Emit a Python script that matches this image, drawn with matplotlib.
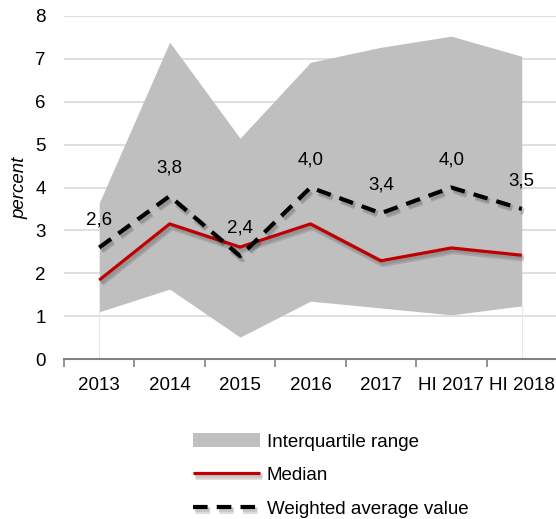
import numpy as np
import matplotlib
matplotlib.use("Agg")
import matplotlib.pyplot as plt
import matplotlib.patheffects as pe

plt.rcParams['font.family'] = ['Liberation Sans', 'DejaVu Sans']

periods = ["2013", "2014", "2015", "2016", "2017", "HI 2017", "HI 2018"]
q_low = [1.10, 1.63, 0.51, 1.35, 1.19, 1.03, 1.24]
q_high = [3.64, 7.39, 5.15, 6.92, 7.27, 7.53, 7.06]
median = [1.84, 3.15, 2.61, 3.15, 2.29, 2.59, 2.42]
weighted = [2.6, 3.8, 2.4, 4.0, 3.4, 4.0, 3.5]

x = np.arange(len(periods))
shadow = [pe.SimpleLineShadow(offset=(1.5, -2), alpha=0.13, shadow_color='k', linewidth=5),
          pe.SimpleLineShadow(offset=(1.5, -2), alpha=0.1, shadow_color='k'),
          pe.Normal()]

fig = plt.figure(figsize=(5.56, 5.19), dpi=100)
ax = fig.add_axes([64 / 556, 1 - 359 / 519, (557 - 64) / 556, (359 - 16) / 519])

ax.fill_between(x, q_low, q_high, color='#bfbfbf', linewidth=0, label="Interquartile range", zorder=2)
ax.plot(x, median, color='#c00000', linewidth=2.3, label="Median", zorder=3,
        path_effects=shadow, solid_capstyle='butt')
ax.plot(x, weighted, color='black', linewidth=3, dashes=(3.5, 2.2), label="Weighted average value",
        zorder=4, path_effects=shadow, dash_capstyle='butt')

# thin drop lines at the ends of the band
for i in (0, len(x) - 1):
    ax.plot([x[i], x[i]], [0, q_low[i]], color='#e6e6e6', linewidth=0.8, zorder=1)

for xi, v in zip(x, weighted):
    ax.annotate("{:.1f}".format(v).replace(".", ","), (xi, v), xytext=(0, 20),
                textcoords='offset points', ha='center', va='center', fontsize=13.5, zorder=5)

ax.set_xlim(-0.5, len(x) - 0.5)
ax.set_ylim(0, 8)
ax.set_yticks(range(0, 9))
ax.yaxis.grid(True, color='#d9d9d9', linewidth=1.2)
ax.set_axisbelow(True)
ax.tick_params(axis='y', length=0, labelsize=13.5, pad=13)

ax.set_xticks(x)
ax.set_xticklabels(periods)
ax.set_xticks(np.arange(-0.5, len(x) - 0.4, 1), minor=True)
ax.tick_params(axis='x', which='major', length=0, labelsize=13.5, pad=13)
ax.tick_params(axis='x', which='minor', length=6, width=1.2, color='#808080', direction='out')

for s in ('left', 'right', 'top'):
    ax.spines[s].set_visible(False)
ax.spines['bottom'].set_color('#808080')
ax.spines['bottom'].set_linewidth(1.5)

ax.set_ylabel("percent", fontstyle='italic', fontsize=13.5, labelpad=5)

h, l = ax.get_legend_handles_labels()
fig.legend(h, l, loc='upper left', bbox_to_anchor=(176 / 556, 1 - 416 / 519), frameon=False,
           fontsize=13.5, handlelength=3.6, handleheight=0.8, handletextpad=0.35, labelspacing=0.85)

fig.savefig("out.png", dpi=100)
